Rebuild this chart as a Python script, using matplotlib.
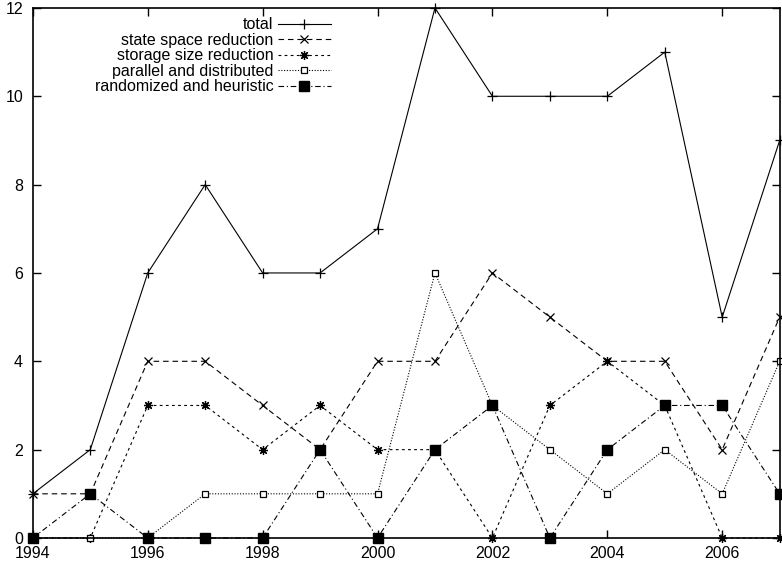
import matplotlib.pyplot as plt

plt.rcParams['font.family'] = ['Liberation Sans', 'DejaVu Sans']
plt.rcParams['font.size'] = 11.5

years = list(range(1994, 2008))
total = [1, 2, 6, 8, 6, 6, 7, 12, 10, 10, 10, 11, 5, 9]
state_space = [1, 1, 4, 4, 3, 2, 4, 4, 6, 5, 4, 4, 2, 5]
storage_size = [0, 0, 3, 3, 2, 3, 2, 2, 0, 3, 4, 3, 0, 0]
parallel = [0, 0, 0, 1, 1, 1, 1, 6, 3, 2, 1, 2, 1, 4]
randomized = [0, 1, 0, 0, 0, 2, 0, 2, 3, 0, 2, 3, 3, 1]

fig = plt.figure(figsize=(7.82, 5.66), dpi=100)
ax = fig.add_axes([0.042, 0.0495, 0.955, 0.9365])

lw = 0.8
ax.plot(years, total, color='black', lw=lw, ls='-', marker='+', ms=7,
        mew=0.9, label='total', clip_on=False)
ax.plot(years, state_space, color='black', lw=lw, ls=(0, (5, 3.5)), marker='x',
        ms=6, mew=0.9, label='state space reduction', clip_on=False)
ax.plot(years, storage_size, color='black', lw=lw, ls=(0, (2.5, 3)),
        marker=(8, 2, 0), ms=6.5, mew=0.9, label='storage size reduction',
        clip_on=False)
ax.plot(years, parallel, color='black', lw=lw, ls=(0, (1, 1.5)), marker='s',
        ms=5, mew=0.9, mfc='white', label='parallel and distributed',
        clip_on=False)
ax.plot(years, randomized, color='black', lw=lw, ls=(0, (5, 2.5, 1, 2.5)),
        marker='s', ms=6.5, mfc='black', label='randomized and heuristic',
        clip_on=False)

ax.set_xlim(1994, 2007)
ax.set_ylim(0, 12)
ax.set_xticks(range(1994, 2008, 2))
ax.set_yticks(range(0, 13, 2))
ax.tick_params(direction='in', length=6, width=1, top=True, right=True)
ax.tick_params(axis='x', pad=6)
ax.tick_params(axis='y', pad=7)
for s in ax.spines.values():
    s.set_linewidth(1.2)

ax.legend(loc='upper right', bbox_to_anchor=(0.399, 0.982), frameon=False,
          markerfirst=False, handlelength=3.3, handletextpad=0.3,
          labelspacing=0.03, borderaxespad=0, borderpad=0)

fig.savefig('out.png', dpi=100)
